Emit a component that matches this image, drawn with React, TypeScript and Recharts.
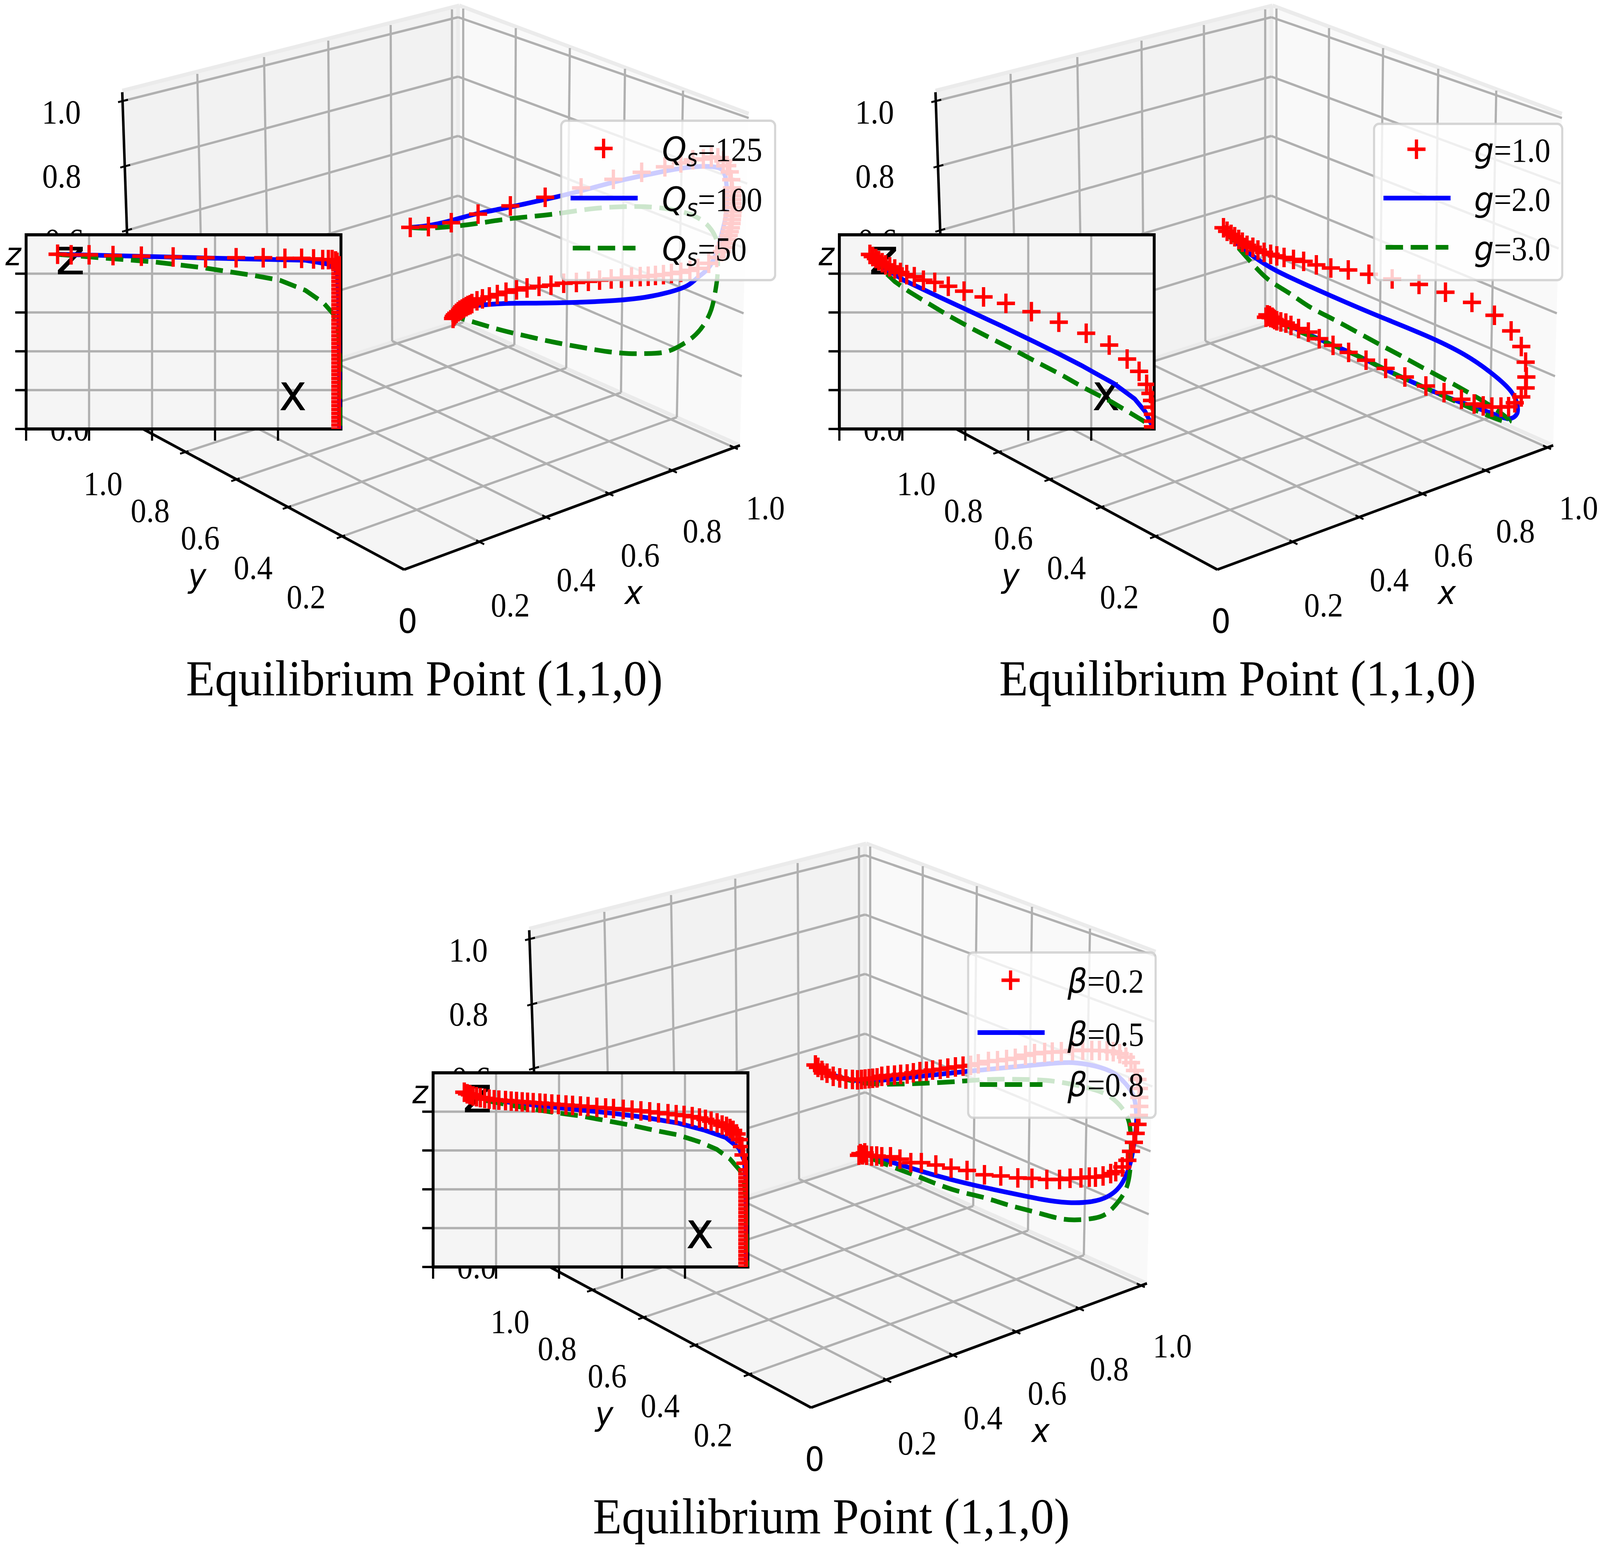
// App.tsx
import { ComposedChart, Area, Line, Scatter, XAxis, YAxis, CartesianGrid, ReferenceArea, Legend } from 'recharts';

type Pair = [number, number];

const PAGE_W = 4411;
const PAGE_H = 3970;
const WIDTH = 2230;
const HEIGHT = 1850;
const SERIF = '"Liberation Serif", "Times New Roman", serif';
const SANS = '"DejaVu Sans", sans-serif';

// ---- values read from the three trajectories, on the drawing plane of the 3D view ----
const qs125Path: Pair[] = [[1131,582],[1181,580],[1244,570],[1318,548],[1407,527],[1503,505],[1602,481],[1691,459],[1769,441],[1833,427],[1877,417],[1910,409],[1939,407],[1961,402],[1979,404],[1994,412],[2005,424],[2012,440],[2016,460],[2018,481],[2019,491],[2020,501],[2020,511],[2020,521],[2020,531],[2020,542],[2019,552],[2018,562],[2017,572],[2015,583],[2012,593],[2009,603],[2005,613],[2001,623],[1996,633],[1990,644],[1976,659],[1954,674],[1924,687],[1902,692],[1877,697],[1851,700],[1829,703],[1807,705],[1787,707],[1765,708],[1741,709],[1713,712],[1685,714],[1653,717],[1622,720],[1589,723],[1554,725],[1519,730],[1486,733],[1453,737],[1424,742],[1395,748],[1371,754],[1349,760],[1330,765],[1315,770],[1301,777],[1296,780],[1290,782],[1285,785],[1279,788],[1274,791],[1268,794],[1263,798],[1258,802],[1254,806],[1251,810],[1249,815]];
const qs100Path: Pair[] = [[1131,582],[1176,578],[1242,565],[1315,547],[1411,529],[1499,511],[1543,502],[1624,483],[1697,465],[1770,450],[1844,436],[1902,428],[1954,426],[1987,432],[1999,450],[2004,486],[2004,532],[1998,567],[1987,608],[1976,644],[1954,685],[1924,710],[1895,731],[1844,748],[1778,761],[1697,769],[1587,774],[1477,776],[1389,777],[1315,782],[1279,789],[1257,807]];
const qs50Path: Pair[] = [[1131,582],[1176,584],[1242,580],[1315,572],[1404,560],[1499,551],[1572,542],[1646,533],[1719,529],[1778,529],[1836,534],[1888,544],[1932,562],[1961,588],[1976,618],[1979,659],[1978,705],[1972,746],[1961,792],[1939,833],[1910,863],[1873,886],[1829,902],[1778,905],[1734,905],[1675,900],[1609,890],[1528,876],[1455,861],[1382,845],[1308,825],[1253,810]];

const g1Path: Pair[] = [[1131,583],[1141,592],[1152,600],[1162,606],[1173,613],[1183,620],[1196,628],[1212,633],[1226,640],[1243,646],[1261,651],[1278,655],[1298,659],[1324,664],[1352,669],[1387,678],[1427,686],[1475,691],[1532,702],[1596,714],[1670,728],[1743,748],[1816,774],[1878,807],[1924,847],[1952,887],[1964,927],[1966,965],[1964,993],[1952,1016],[1934,1031],[1917,1041],[1896,1042],[1871,1042],[1847,1039],[1822,1034],[1787,1022],[1739,1005],[1689,988],[1631,965],[1578,943],[1524,922],[1476,902],[1433,884],[1395,867],[1365,850],[1338,841],[1317,833],[1303,827],[1289,824],[1278,821],[1272,818],[1268,815],[1265,812],[1261,813],[1258,808],[1255,810],[1252,806],[1248,812]];
const g2Path: Pair[] = [[1131,580],[1169,623],[1219,660],[1275,692],[1359,729],[1464,772],[1569,813],[1689,859],[1794,907],[1871,956],[1924,1002],[1941,1037],[1940,1059],[1924,1071],[1899,1068],[1850,1051],[1780,1028],[1710,1002],[1640,973],[1569,942],[1499,910],[1429,882],[1359,853],[1303,830],[1261,813]];
const g3Path: Pair[] = [[1131,580],[1162,623],[1205,669],[1254,715],[1310,749],[1366,784],[1429,815],[1499,850],[1562,882],[1619,910],[1682,942],[1745,973],[1801,1002],[1864,1037],[1917,1074],[1899,1077],[1836,1054],[1780,1031],[1710,1002],[1640,973],[1569,942],[1499,910],[1429,882],[1359,856],[1303,833],[1261,813]];

const beta2Path: Pair[] = [[1126,581],[1133,587],[1144,595],[1158,602],[1175,610],[1193,614],[1210,617],[1228,618],[1242,619],[1253,618],[1263,617],[1274,616],[1284,615],[1296,614],[1309,610],[1326,608],[1344,607],[1361,605],[1379,604],[1396,601],[1414,598],[1432,597],[1449,594],[1470,592],[1491,589],[1512,586],[1533,584],[1554,582],[1575,578],[1603,572],[1628,570],[1653,567],[1677,564],[1705,556],[1730,552],[1758,549],[1779,548],[1804,547],[1835,544],[1863,543],[1888,544],[1909,544],[1930,545],[1947,547],[1965,552],[1982,561],[1996,575],[2007,595],[2014,618],[2018,641],[2019,664],[2019,687],[2018,710],[2014,733],[2009,756],[2004,779],[1996,802],[1986,825],[1972,842],[1954,854],[1940,859],[1919,865],[1898,868],[1881,868],[1858,870],[1828,871],[1799,874],[1764,874],[1723,871],[1684,870],[1637,865],[1592,862],[1544,851],[1500,845],[1458,837],[1418,831],[1389,831],[1359,822],[1333,816],[1309,816],[1295,814],[1281,814],[1267,812],[1262,806],[1256,811],[1250,808],[1246,812]];
const beta5Path: Pair[] = [[1126,581],[1168,604],[1239,621],[1309,620],[1414,610],[1537,598],[1660,587],[1765,578],[1835,575],[1898,584],[1947,601],[1982,630],[2004,664],[2011,710],[2009,750],[2000,808],[1989,848],[1968,888],[1933,917],[1884,931],[1821,933],[1751,925],[1660,908],[1561,888],[1463,865],[1379,842],[1309,822],[1256,808]];
const beta8Path: Pair[] = [[1126,581],[1168,604],[1239,624],[1309,630],[1393,629],[1505,624],[1603,618],[1702,618],[1786,623],[1870,638],[1933,659],[1975,696],[1993,739],[1996,796],[1993,854],[1979,905],[1947,946],[1912,969],[1856,977],[1800,974],[1730,957],[1660,940],[1589,920],[1505,900],[1421,871],[1365,851],[1309,831],[1256,811]];

// ---- the same runs in the inset, as (x, z) ----
const qs125Inset: Pair[] = [[.1,.9],[.143,.897],[.2,.897],[.276,.893],[.366,.89],[.467,.886],[.57,.882],[.667,.882],[.753,.882],[.822,.879],[.875,.879],[.913,.876],[.942,.872],[.96,.872],[.972,.872],[.983,.865],[.988,.858],[.997,.84],[.998,.82],[.998,.8],[.998,.78],[.998,.76],[.998,.74],[.998,.72],[.998,.7],[.998,.68],[.998,.66],[.998,.64],[.998,.62],[.998,.6],[.998,.58],[.998,.56],[.998,.54],[.998,.52],[.998,.5],[.998,.48],[.998,.46],[.998,.44],[.998,.42],[.998,.4],[.998,.38],[.998,.36],[.998,.34],[.998,.32],[.998,.3],[.998,.28],[.998,.26],[.998,.24],[.998,.22],[.998,.2],[.998,.18],[.998,.16],[.998,.14],[.998,.12],[.998,.1],[.998,.08],[.998,.06],[.998,.04],[.998,.02],[.998,0]];
const qs100Inset: Pair[] = [[.095,.9],[.564,.881],[.887,.869],[.96,.849],[.988,.811],[.992,.67],[.995,.3],[.995,0]];
const qs50Inset: Pair[] = [[.095,.9],[.24,.881],[.402,.861],[.564,.83],[.725,.79],[.806,.766],[.887,.714],[.944,.65],[.976,.592],[.992,.503],[.996,.348],[.997,0]];

const g1Inset: Pair[] = [[.097,.899],[.106,.888],[.116,.878],[.125,.867],[.136,.856],[.147,.845],[.16,.835],[.176,.824],[.194,.806],[.214,.795],[.238,.784],[.267,.766],[.303,.755],[.346,.735],[.396,.71],[.458,.68],[.529,.647],[.61,.604],[.697,.55],[.784,.493],[.857,.432],[.914,.36],[.952,.297],[.976,.23],[.988,.183],[.993,.147],[.995,.112],[.996,.076],[.996,.04],[.996,.011]];
const g2Inset: Pair[] = [[.097,.91],[.139,.834],[.205,.766],[.293,.698],[.403,.615],[.513,.532],[.623,.446],[.696,.388],[.769,.327],[.872,.234],[.938,.155],[.971,.09],[.993,.018]];
const g3Inset: Pair[] = [[.097,.899],[.125,.838],[.176,.759],[.22,.709],[.278,.651],[.352,.579],[.425,.514],[.498,.453],[.564,.399],[.63,.342],[.703,.281],[.777,.212],[.864,.14],[.916,.09],[.967,.04],[.993,.007]];

const beta2Inset: Pair[] = [[.099,.9],[.108,.892],[.117,.887],[.127,.881],[.138,.877],[.15,.872],[.164,.868],[.178,.864],[.194,.861],[.209,.859],[.23,.857],[.248,.854],[.265,.852],[.283,.85],[.3,.848],[.318,.846],[.339,.844],[.356,.842],[.377,.839],[.398,.837],[.422,.834],[.443,.832],[.468,.829],[.492,.826],[.52,.822],[.548,.819],[.573,.816],[.604,.812],[.632,.808],[.66,.804],[.688,.799],[.716,.794],[.746,.789],[.772,.784],[.797,.78],[.823,.774],[.846,.767],[.865,.76],[.883,.751],[.902,.742],[.918,.731],[.932,.724],[.943,.713],[.953,.703],[.964,.685],[.974,.656],[.981,.62],[.986,.577],[.992,.534],[.998,.5],[.998,.48],[.998,.46],[.998,.44],[.998,.42],[.998,.4],[.998,.38],[.998,.36],[.998,.34],[.998,.32],[.998,.3],[.998,.28],[.998,.26],[.998,.24],[.998,.22],[.998,.2],[.998,.18],[.998,.16],[.998,.14],[.998,.12],[.998,.1],[.998,.08],[.998,.06],[.998,.04],[.998,.02],[.998,0]];
const beta5Inset: Pair[] = [[.094,.907],[.147,.871],[.251,.846],[.356,.828],[.461,.81],[.566,.792],[.67,.771],[.775,.742],[.859,.706],[.929,.667],[.971,.613],[.988,.548],[.993,.448],[.994,.233],[.994,.004]];
const beta8Inset: Pair[] = [[.094,.9],[.147,.864],[.216,.842],[.3,.817],[.384,.796],[.468,.778],[.552,.753],[.635,.728],[.705,.703],[.775,.681],[.845,.645],[.901,.606],[.943,.556],[.974,.498],[.988,.434],[.994,.34],[.996,.004]];

const insetXTicks = [0, 0.2, 0.4, 0.6, 0.8];
const insetZTicks = [0, 0.2, 0.4, 0.6, 0.8];

// ---- box of the 3D view ----
const leftWall: Pair[][] = [[[337, 236], [1266, 18]], [[337, 236], [368, 1085], [1266, 822]]];
const rightWall: Pair[][] = [[[1266, 18], [2064, 295]], [[1266, 822], [2040, 1140], [2064, 295]]];
const floorPane: Pair[][] = [[[368, 1085], [1266, 822], [2040, 1140]], [[368, 1085], [1114, 1458], [2040, 1140]]];

const paneEdges: Pair[][] = [
  [[337, 232], [1266, 14]], [[1266, 14], [2064, 291]], [[1263, 18], [1263, 822]],
  [[368, 1085], [1266, 822]], [[1266, 822], [2040, 1140]],
];
const zGridLeft: Pair[][] = [
  [[345, 257], [1263, 44]], [[351, 424], [1263, 196]], [[356, 588], [1263, 348]], [[361, 748], [1263, 501]], [[366, 905], [1263, 651]],
];
const zGridRight: Pair[][] = [
  [[1263, 44], [2064, 302]], [[1263, 196], [2060, 470]], [[1263, 348], [2055, 636]], [[1263, 501], [2050, 802]], [[1263, 651], [2045, 963]],
];
const xGridWall: Pair[][] = [
  [[544, 189], [563, 1027]], [[728, 146], [743, 974]], [[905, 104], [912, 923]], [[1077, 64], [1081, 873]], [[1246, 24], [1246, 824]],
];
const yGridWall: Pair[][] = [
  [[1277, 22], [1277, 825]], [[1422, 72], [1418, 883]], [[1571, 123], [1561, 942]], [[1723, 176], [1712, 1005]], [[1883, 232], [1866, 1068]],
];
const xGridFloor: Pair[][] = [
  [[1324, 1388], [563, 1027]], [[1506, 1324], [743, 974]], [[1680, 1264], [912, 923]], [[1855, 1205], [1081, 873]], [[2023, 1145], [1246, 824]],
];
const yGridFloor: Pair[][] = [
  [[940, 1374], [1866, 1068]], [[791, 1299], [1712, 1005]], [[649, 1228], [1561, 942]], [[508, 1158], [1418, 883]], [[373, 1092], [1277, 825]],
];
const axisLines: Pair[][] = [[[337, 236], [368, 1085]], [[368, 1085], [1114, 1458]], [[1114, 1458], [2040, 1140]]];

// 0.4 and 0.2 of the z axis lie wholly behind the inset, so only these show
const zLabels: [string, number, number][] = [['1.0', 169, 287], ['0.8', 170, 451], ['0.6', 177, 616], ['0.0', 192, 1098]];
const yLabels: [string, number, number][] = [['1.0', 284, 1238], ['0.8', 414, 1307], ['0.6', 552, 1377], ['0.4', 698, 1453], ['0.2', 844, 1528]];
const xLabels: [string, number, number][] = [['0.2', 1407, 1549], ['0.4', 1588, 1484], ['0.6', 1765, 1421], ['0.8', 1936, 1359], ['1.0', 2110, 1300]];
const titleText = 'Equilibrium Point (1,1,0)';

const qsLegend = [['Q', 's', '=125'], ['Q', 's', '=100'], ['Q', 's', '=50']];
const gLegend = [['g', '', '=1.0'], ['g', '', '=2.0'], ['g', '', '=3.0']];
const betaLegend = [['β', '', '=0.2'], ['β', '', '=0.5'], ['β', '', '=0.8']];

const panels = [
  { dx: 0, dy: 0, red: qs125Path, blue: qs100Path, green: qs50Path, redIn: qs125Inset, blueIn: qs100Inset, greenIn: qs50Inset,
    legend: qsLegend, box: { left: 1544, top: 306, width: 596, height: 414 }, markY: [74, 201, 329], textY: [106, 234, 361], textX: 281 },
  { dx: 2242, dy: 0, red: g1Path, blue: g2Path, green: g3Path, redIn: g1Inset, blueIn: g2Inset, greenIn: g3Inset,
    legend: gLegend, box: { left: 1543, top: 314, width: 525, height: 406 }, markY: [68, 193, 319], textY: [100, 226, 352], textX: 279 },
  { dx: 1122, dy: 2145, red: beta2Path, blue: beta5Path, green: beta8Path, redIn: beta2Inset, blueIn: beta5Inset, greenIn: beta8Inset,
    legend: betaLegend, box: { left: 1544, top: 290, width: 523, height: 429 }, markY: [74, 208, 341], textY: [106, 242, 371], textX: 277 },
];

const rows = (pairs: Pair[]) => pairs.map(([x, y]) => ({ x, y }));

// band between an upper and a lower outline, so a pane can be drawn as a range Area
function paneBand([upper, lower]: Pair[][]) {
  const at = (chain: Pair[], x: number) => {
    for (let i = 0; i < chain.length - 1; i++) {
      const [x0, y0] = chain[i];
      const [x1, y1] = chain[i + 1];
      if (x >= x0 && x <= x1) return y0 + ((y1 - y0) * (x - x0)) / (x1 - x0);
    }
    return chain[chain.length - 1][1];
  };
  const xs = [...new Set([...upper, ...lower].map((p) => p[0]))].sort((a, b) => a - b);
  return xs.map((x) => ({ x, band: [at(upper, x), at(lower, x)] }));
}

// short tick across an axis, running along the grid line that starts at it
function tickAt([from, to]: Pair[], before: number, after: number): Pair[] {
  const len = Math.hypot(to[0] - from[0], to[1] - from[1]);
  const ux = (to[0] - from[0]) / len;
  const uy = (to[1] - from[1]) / len;
  return [[from[0] - ux * before, from[1] - uy * before], [from[0] + ux * after, from[1] + uy * after]];
}

const allTicks = [
  ...zGridLeft.map((l) => tickAt(l, 20, 8)),
  ...xGridFloor.map((l) => tickAt(l, 12, 12)),
  ...yGridFloor.map((l) => tickAt(l, 12, 12)),
];

const Plus = ({ cx, cy }: any) => (
  <path d={`M${cx - 25} ${cy}H${cx + 25}M${cx} ${cy - 25}V${cy + 25}`} stroke="#ff0000" strokeWidth={9} fill="none" />
);

function LegendBox({ p }: any) {
  const { width, height } = p.box;
  return (
    <svg width={width} height={height} style={{ display: 'block' }}>
      <rect x={3} y={3} width={width - 6} height={height - 6} rx={14} fill="rgba(255,255,255,0.8)" stroke="rgba(204,204,204,0.8)" strokeWidth={6} />
      <Plus cx={120} cy={p.markY[0]} />
      <line x1={29} x2={214} y1={p.markY[1]} y2={p.markY[1]} stroke="#0000ff" strokeWidth={12} />
      <line x1={35} x2={208} y1={p.markY[2]} y2={p.markY[2]} stroke="#008000" strokeWidth={12} strokeDasharray="48 21" />
      {p.legend.map(([sym, sub, rest]: string[], i: number) => (
        <text key={i} x={p.textX} y={p.textY[i]} fill="#000" fontFamily={SERIF} fontSize={86}>
          <tspan fontFamily={SANS} fontStyle="italic">{sym}</tspan>
          {sub && <tspan fontFamily={SANS} fontStyle="italic" fontSize={60} dy={13}>{sub}</tspan>}
          <tspan dy={sub ? -13 : 0}>{rest}</tspan>
        </text>
      ))}
    </svg>
  );
}

function Panel3D({ p }: any) {
  const seg = (lines: Pair[][], stroke: string, w: number, key: string) =>
    lines.map((l, i) => (
      <Line key={`${key}${i}`} data={rows(l)} dataKey="y" stroke={stroke} strokeWidth={w} dot={false} activeDot={false} legendType="none" isAnimationActive={false} />
    ));
  const label = ([t, x, y]: [string, number, number]) => (
    <text key={`${t}${x}`} x={x} y={y + 29} textAnchor="middle" fontFamily={SERIF} fontSize={86} fill="#000">{t}</text>
  );
  return (
    <div style={{ position: 'absolute', left: p.dx, top: p.dy }}>
      <ComposedChart width={WIDTH} height={HEIGHT} margin={{ top: 0, right: 0, bottom: 0, left: 0 }}>
        <XAxis type="number" dataKey="x" domain={[0, WIDTH]} hide allowDataOverflow />
        <YAxis type="number" dataKey="y" domain={[0, HEIGHT]} reversed hide allowDataOverflow />
        <Area data={paneBand(leftWall)} dataKey="band" stroke="none" fill="#f2f2f2" fillOpacity={1} dot={false} activeDot={false} isAnimationActive={false} />
        <Area data={paneBand(rightWall)} dataKey="band" stroke="none" fill="#f9f9f9" fillOpacity={1} dot={false} activeDot={false} isAnimationActive={false} />
        <Area data={paneBand(floorPane)} dataKey="band" stroke="none" fill="#f5f5f5" fillOpacity={1} dot={false} activeDot={false} isAnimationActive={false} />
        {seg(paneEdges, '#ebebeb', 10, 'edge')}
        {seg(zGridLeft, '#b0b0b0', 6, 'zl')}
        {seg(zGridRight, '#b0b0b0', 6, 'zr')}
        {seg(xGridWall, '#b0b0b0', 6, 'xw')}
        {seg(yGridWall, '#b0b0b0', 6, 'yw')}
        {seg(xGridFloor, '#b0b0b0', 6, 'xf')}
        {seg(yGridFloor, '#b0b0b0', 6, 'yf')}
        {seg(axisLines, '#000000', 7, 'ax')}
        {seg(allTicks, '#000000', 5, 'tk')}
        <Scatter data={rows(p.red)} dataKey="y" shape={<Plus />} isAnimationActive={false} />
        <Line data={rows(p.blue)} dataKey="y" type="natural" stroke="#0000ff" strokeWidth={12} dot={false} activeDot={false} isAnimationActive={false} />
        <Line data={rows(p.green)} dataKey="y" type="natural" stroke="#008000" strokeWidth={12} strokeDasharray="48 21" dot={false} activeDot={false} isAnimationActive={false} />
        <Legend layout="vertical" align="center" verticalAlign="middle" wrapperStyle={{ ...p.box, position: 'absolute' }} content={() => <LegendBox p={p} />} />
        {zLabels.map(label)}
        {yLabels.map(label)}
        {xLabels.map(label)}
        <text x={1124} y={1620} textAnchor="middle" fontFamily={SANS} fontSize={85} fill="#000">0</text>
        <text x={15} y={679} fontFamily={SANS} fontStyle="italic" fontSize={82} fill="#000">z</text>
        <text x={544} y={1503} textAnchor="middle" fontFamily={SANS} fontStyle="italic" fontSize={84} fill="#000">y</text>
        <text x={1747} y={1546} textAnchor="middle" fontFamily={SANS} fontStyle="italic" fontSize={84} fill="#000">x</text>
        <text x={1170} y={1780} textAnchor="middle" fontFamily={SERIF} fontSize={130} fill="#000">{titleText}</text>
      </ComposedChart>
    </div>
  );
}

function Inset({ p, id }: any) {
  const insetRows = (pairs: Pair[]) => pairs.map(([x, z]) => ({ x, z }));
  const ClippedPlus = (props: any) => (
    <g clipPath={`url(#${id})`}><Plus {...props} /></g>
  );
  return (
    <div style={{ position: 'absolute', left: p.dx + 42, top: p.dy + 597 }}>
      <ComposedChart width={904} height={531} margin={{ top: 4, right: 6, bottom: 0, left: 0 }}>
        <defs>
          <clipPath id={id}><rect x={30} y={4} width={868} height={497} /></clipPath>
        </defs>
        <CartesianGrid fill="#f5f5f5" fillOpacity={1} stroke="#b0b0b0" strokeWidth={6} />
        <XAxis type="number" dataKey="x" domain={[0, 1]} ticks={insetXTicks} height={30} tickSize={30} tickFormatter={() => ''} axisLine={false} tickLine={{ stroke: '#000', strokeWidth: 6 }} />
        <YAxis type="number" dataKey="z" domain={[0, 1]} ticks={insetZTicks} width={30} tickSize={30} tickFormatter={() => ''} axisLine={false} tickLine={{ stroke: '#000', strokeWidth: 6 }} />
        <Scatter data={insetRows(p.redIn)} dataKey="z" shape={<ClippedPlus />} isAnimationActive={false} />
        <Line data={insetRows(p.blueIn)} dataKey="z" type="linear" stroke="#0000ff" strokeWidth={12} dot={false} activeDot={false} isAnimationActive={false} />
        <Line data={insetRows(p.greenIn)} dataKey="z" type="linear" stroke="#008000" strokeWidth={12} strokeDasharray="48 21" dot={false} activeDot={false} isAnimationActive={false} />
        <ReferenceArea x1={0} x2={1} y1={0} y2={1} fill="none" stroke="#000" strokeWidth={8} ifOverflow="visible" />
        <text x={111} y={105} fontFamily={SANS} fontSize={128} fill="#000" textLength={82} lengthAdjust="spacingAndGlyphs">z</text>
        <text x={727} y={453} fontFamily={SANS} fontSize={130} fill="#000">x</text>
      </ComposedChart>
    </div>
  );
}

export default function App() {
  // the browser may hand out a narrower window than asked for; keep the whole figure inside it
  const fitX = Math.min(1, window.innerWidth / PAGE_W);
  return (
    <div style={{ position: 'absolute', left: 0, top: 0, width: PAGE_W, height: PAGE_H, background: '#fff', transform: `scaleX(${fitX})`, transformOrigin: '0 0' }}>
      {panels.map((p, i) => (
        <div key={i}>
          <Panel3D p={p} />
          <Inset p={p} id={`inset-clip-${i}`} />
        </div>
      ))}
    </div>
  );
}
